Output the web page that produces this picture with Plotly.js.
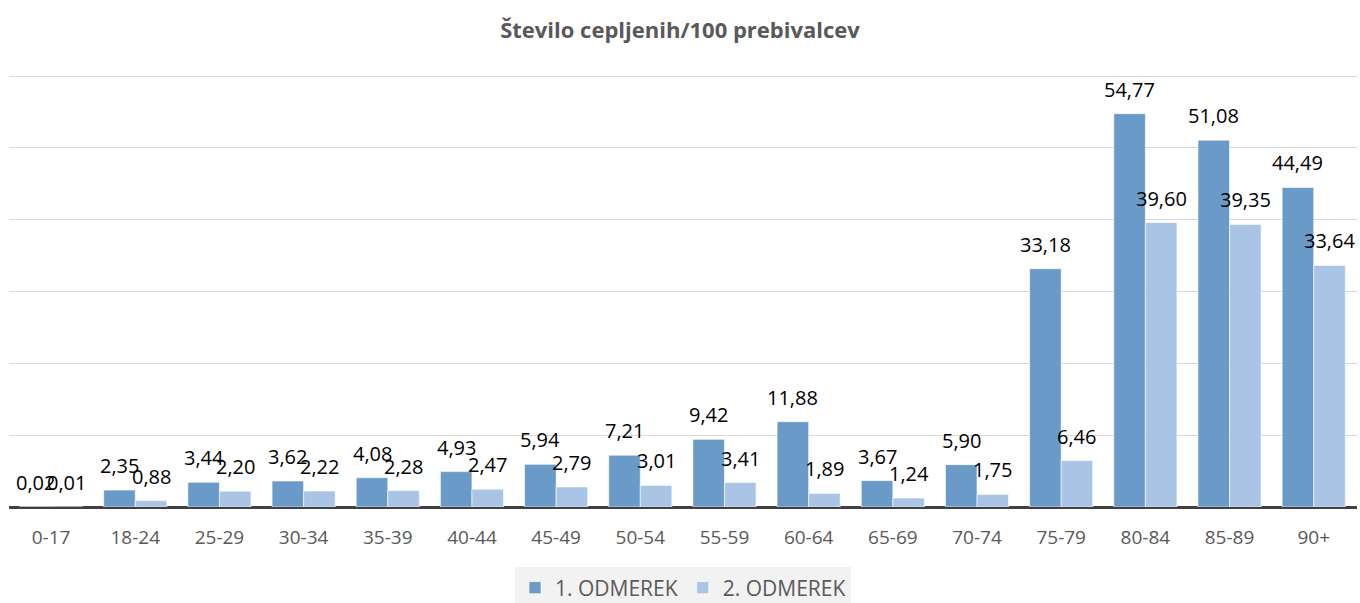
<!DOCTYPE html>
<html>
<head>
<meta charset="utf-8">
<script src="https://cdn.plot.ly/plotly-3.0.1.min.js"></script>
<style>html,body{margin:0;padding:0;background:#fff;}#chart{width:1360px;height:603px;}</style>
</head>
<body>
<div id="chart"></div>
<script>
const categories = ["0-17","18-24","25-29","30-34","35-39","40-44","45-49","50-54","55-59","60-64","65-69","70-74","75-79","80-84","85-89","90+"];
const dose1 = [0.02,2.35,3.44,3.62,4.08,4.93,5.94,7.21,9.42,11.88,3.67,5.90,33.18,54.77,51.08,44.49];
const dose2 = [0.01,0.88,2.20,2.22,2.28,2.47,2.79,3.01,3.41,1.89,1.24,1.75,6.46,39.60,39.35,33.64];
const seriesNames = ["1. ODMEREK","2. ODMEREK"];

const fmt = v => v.toFixed(2).replace('.', ',');
const FONT = "Open Sans, Liberation Sans, sans-serif";
const bargap = 0.25;
const barW = (1 - bargap) / 2;

const traces = [
  {type:'bar', name:seriesNames[0], x:categories, y:dose1,
   marker:{color:'#6a9bc8', line:{color:'rgba(255,255,255,0.6)', width:1}}, hoverinfo:'x+y'},
  {type:'bar', name:seriesNames[1], x:categories, y:dose2,
   marker:{color:'#a9c4e4', line:{color:'rgba(255,255,255,0.6)', width:1}}, hoverinfo:'x+y'}
];

const annotations = [];
[dose1, dose2].forEach((arr, s) => {
  arr.forEach((v, i) => {
    annotations.push({
      xref:'x', yref:'y', x: i + (s === 0 ? -barW/2 : barW/2), y: v,
      text: fmt(v), showarrow:false, yanchor:'bottom', xanchor:'center', yshift: 9,
      font:{family:FONT, size:20, color:'#000000'}
    });
  });
});

const layout = {
  width:1360, height:603,
  margin:{l:9, r:3, t:75, b:96, autoexpand:false},
  paper_bgcolor:'#ffffff', plot_bgcolor:'#ffffff',
  title:{text:'<b>Število cepljenih/100 prebivalcev</b>', x:0.5, xanchor:'center', y:0.95, yanchor:'middle',
         font:{family:FONT, size:22, color:'#595959'}},
  barmode:'group', bargap:bargap, bargroupgap:0,
  xaxis:{type:'category', tickfont:{family:FONT, size:19, color:'#595959'}, ticks:'', ticklabelstandoff:17,
         showline:false, showgrid:false, fixedrange:true},
  yaxis:{range:[0,60.15], tickvals:[10,20,30,40,50,60], showticklabels:false, ticks:'', gridcolor:'#d9d9d9', gridwidth:1,
         zeroline:true, zerolinecolor:'#404040', zerolinewidth:3, fixedrange:true},
  legend:{orientation:'h', x:0.5, xanchor:'center', y:-0.14, yanchor:'top', bgcolor:'#f2f2f2',
          font:{family:FONT, size:21, color:'#595959'}, itemwidth:30, tracegroupgap:10},
  annotations: annotations,
  showlegend:true
};

Plotly.newPlot('chart', traces, layout, {displayModeBar:false, staticPlot:true});
</script>
</body>
</html>
